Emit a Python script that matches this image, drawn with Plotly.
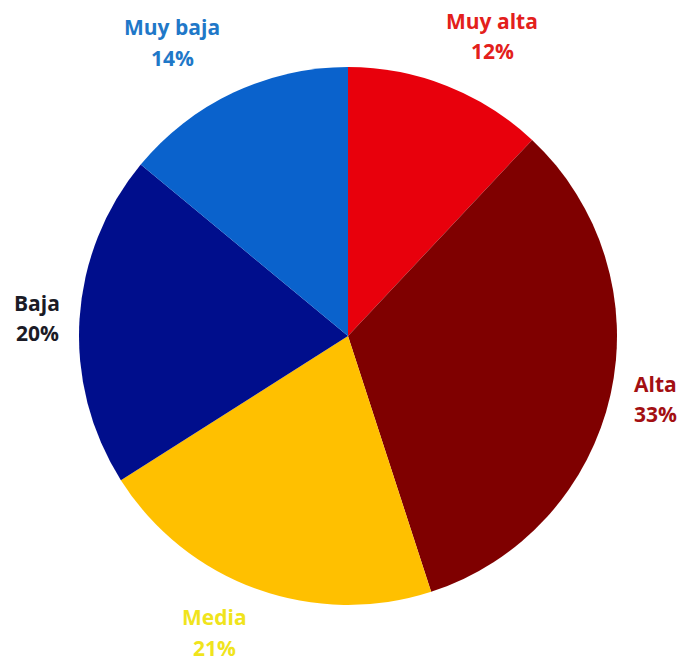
import plotly.graph_objects as go

# Category shares (percent), clockwise from 12 o'clock
categories = ["Muy alta", "Alta", "Media", "Baja", "Muy baja"]
shares = [12, 33, 21, 20, 14]

slice_colors = ["#E8000C", "#7F0000", "#FFC000", "#000E8C", "#0A62CC"]
label_colors = ["#E3201B", "#A30F12", "#F0E41C", "#1B1B26", "#1F78C8"]

# Label anchor points in pixels: (x centre, name line y, percent line y)
label_px = {
    "Muy alta": (492, 20, 50),
    "Alta": (655, 383, 413),
    "Media": (215, 616, 647),
    "Baja": (37, 302, 332),
    "Muy baja": (172, 26, 57),
}

W, H = 678, 665
cx, cy, r = 348, 336, 269

fig = go.Figure(
    go.Pie(
        labels=categories,
        values=shares,
        sort=False,
        direction="clockwise",
        rotation=0,
        marker=dict(colors=slice_colors, line=dict(width=0)),
        textinfo="none",
        hoverinfo="label+percent",
        showlegend=False,
        domain=dict(x=[(cx - r) / W, (cx + r) / W],
                    y=[1 - (cy + r) / H, 1 - (cy - r) / H]),
    )
)

font_family = "'Open Sans', Lato, sans-serif"
annotations = []
for name, val, col in zip(categories, shares, label_colors):
    px, py1, py2 = label_px[name]
    for txt, py in ((name, py1), (f"{val}%", py2)):
        annotations.append(dict(
            x=px / W, y=1 - (py + 1) / H, xref="paper", yref="paper",
            text=f"<b>{txt}</b>",
            showarrow=False, xanchor="center", yanchor="middle",
            font=dict(family=font_family, size=21, color=col),
        ))

fig.update_layout(
    width=W, height=H,
    margin=dict(l=0, r=0, t=0, b=0),
    paper_bgcolor="white", plot_bgcolor="white",
    annotations=annotations,
)

fig.write_html("out.html")
